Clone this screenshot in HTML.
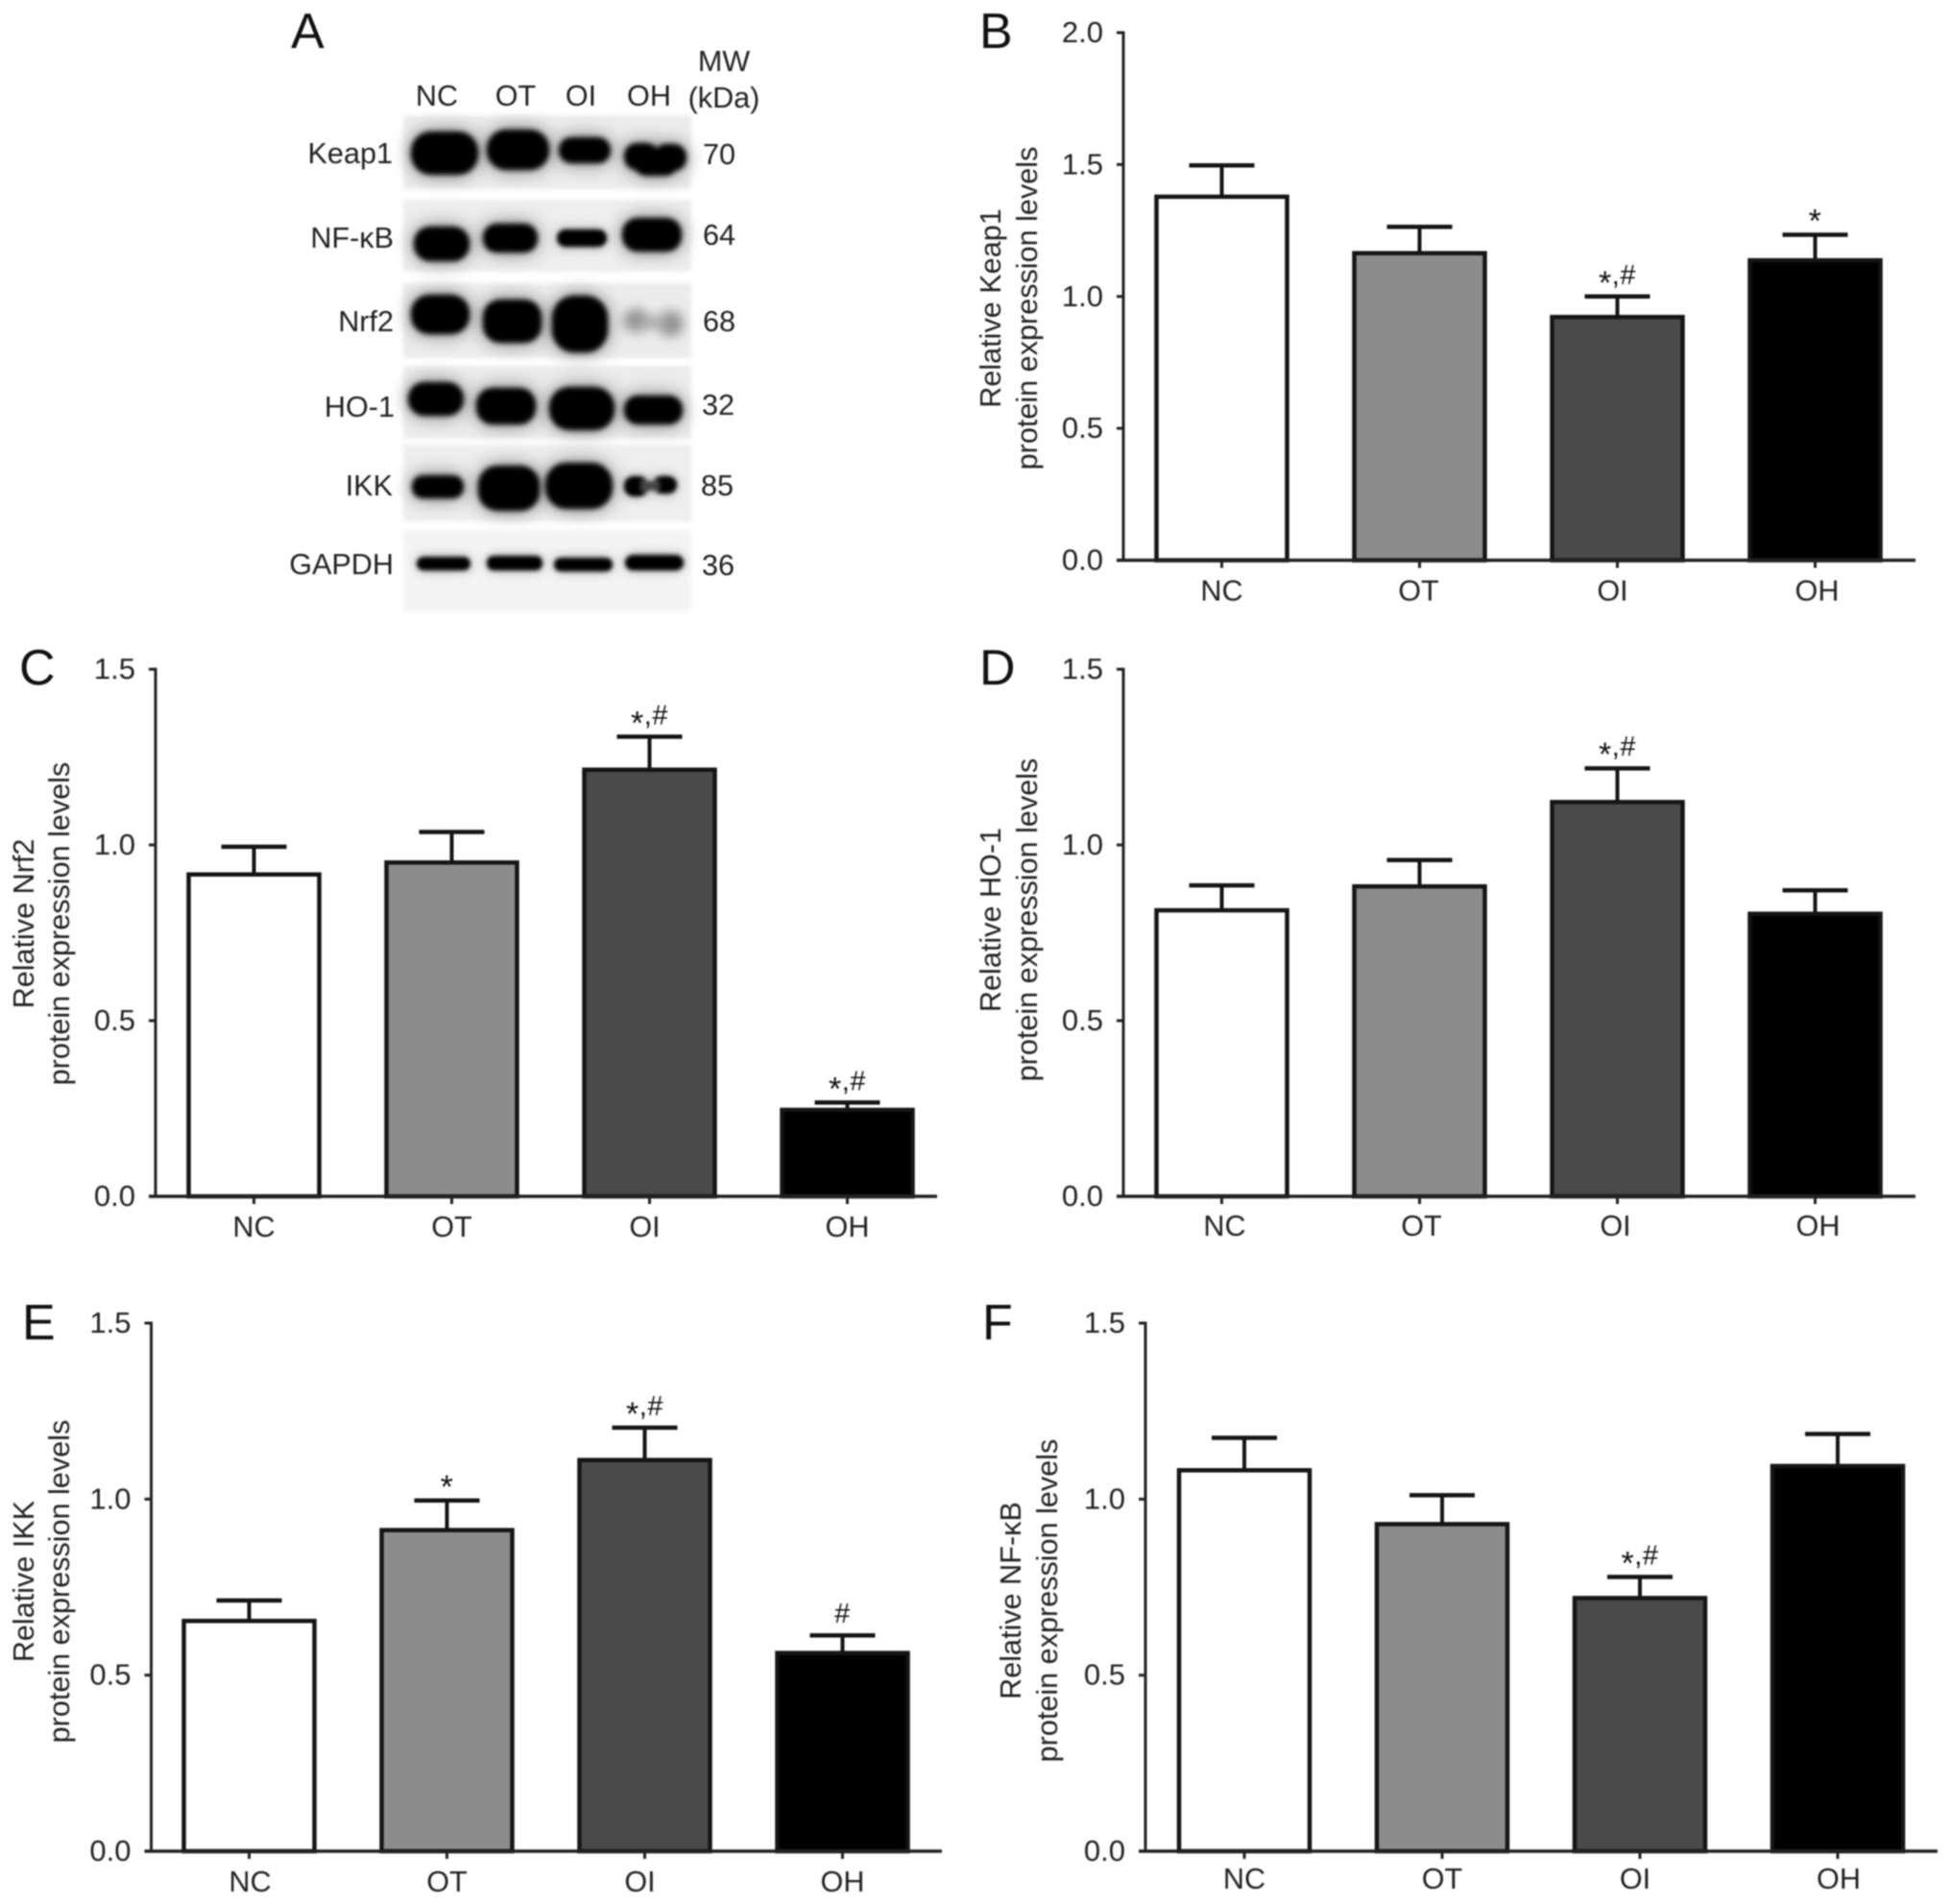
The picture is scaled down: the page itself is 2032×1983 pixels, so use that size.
<!DOCTYPE html>
<html lang="en">
<head>
<meta charset="utf-8">
<title>Western blot and relative protein expression levels</title>
<style>
html,body{margin:0;padding:0;background:#fff;}
#figure{display:block;width:2032px;height:1983px;filter:blur(.7px);font-family:"Liberation Sans",sans-serif;}
#figure text{fill:#222;font-family:"Liberation Sans",sans-serif;font-size:30.6px;}
#figure .letter{font-size:52px;fill:#111;}
</style>
</head>
<body>
<svg id="figure" xmlns="http://www.w3.org/2000/svg" width="2032" height="1983" viewBox="0 0 2032 1983">
  <defs>
    <filter id="band-blur" x="-40%" y="-80%" width="180%" height="260%">
      <feGaussianBlur in="SourceGraphic" stdDeviation="10" result="wide"/>
      <feComponentTransfer in="wide" result="halo"><feFuncA type="linear" slope="0.55"/></feComponentTransfer>
      <feGaussianBlur in="SourceGraphic" stdDeviation="2.6" result="core"/>
      <feMerge><feMergeNode in="halo"/><feMergeNode in="core"/></feMerge>
    </filter>
    <filter id="thin-band-blur" x="-20%" y="-150%" width="140%" height="400%">
      <feGaussianBlur in="SourceGraphic" stdDeviation="6" result="wide"/>
      <feComponentTransfer in="wide" result="halo"><feFuncA type="linear" slope="0.4"/></feComponentTransfer>
      <feGaussianBlur in="SourceGraphic" stdDeviation="2.1" result="core"/>
      <feMerge><feMergeNode in="halo"/><feMergeNode in="core"/></feMerge>
    </filter>
    <filter id="strip-blur" x="-5%" y="-15%" width="110%" height="130%"><feGaussianBlur stdDeviation="2"/></filter>
    <filter id="faint-blur" x="-60%" y="-80%" width="220%" height="260%"><feGaussianBlur stdDeviation="6"/></filter>
  </defs>

  <g id="panel-a">
    <text class="letter" x="303" y="50">A</text>
    <g filter="url(#strip-blur)">
      <rect x="420" y="120" width="300" height="77" fill="#ececec"/>
      <rect x="420" y="208" width="300" height="75" fill="#eeeeee"/>
      <rect x="420" y="295" width="300" height="78" fill="#ececec"/>
      <rect x="420" y="381" width="300" height="76" fill="#ececec"/>
      <rect x="420" y="463" width="300" height="80" fill="#eeeeee"/>
      <rect x="420" y="552" width="300" height="85" fill="#f4f4f4"/>
    </g>
    <g filter="url(#band-blur)" fill="#000">
      <rect x="428" y="137" width="70" height="45" rx="21"/>
      <rect x="507" y="135" width="65" height="42" rx="20"/>
      <rect x="582" y="143" width="54" height="27" rx="13"/>
      <rect x="650" y="149" width="36" height="28" rx="13"/>
      <rect x="660" y="154" width="46" height="29" rx="13"/>
      <rect x="681" y="150" width="34" height="28" rx="13"/>
      <rect x="431" y="236" width="58" height="36" rx="17"/>
      <rect x="503" y="233" width="57" height="30" rx="14"/>
      <rect x="648" y="227" width="62" height="35" rx="16"/>
      <rect x="428" y="307" width="61" height="41" rx="19"/>
      <rect x="503" y="312" width="61" height="45" rx="18"/>
      <rect x="575" y="308" width="58" height="59" rx="23"/>
      <rect x="425" y="398" width="58" height="35" rx="17"/>
      <rect x="496" y="404" width="62" height="38" rx="17"/>
      <rect x="572" y="403" width="68" height="45" rx="21"/>
      <rect x="650" y="412" width="61" height="30" rx="14"/>
      <rect x="429" y="495" width="54" height="24" rx="11"/>
      <rect x="498" y="485" width="64" height="47" rx="20"/>
      <rect x="568" y="482" width="70" height="48" rx="22"/>
    </g>
    <g filter="url(#thin-band-blur)" fill="#000">
      <rect x="580" y="239" width="52" height="18" rx="9"/>
      <rect x="650" y="496" width="25" height="21" rx="10"/>
      <rect x="680" y="496" width="25" height="18" rx="9"/>
      <rect x="668" y="501" width="18" height="10" fill="#444"/>
      <rect x="434" y="580" width="56" height="14" rx="7"/>
      <rect x="507" y="579" width="58" height="15" rx="7"/>
      <rect x="577" y="581" width="61" height="14" rx="7"/>
      <rect x="651" y="578" width="61" height="16" rx="8"/>
    </g>
    <g filter="url(#faint-blur)" fill="#808080">
      <ellipse cx="663" cy="334" rx="13" ry="12"/>
      <ellipse cx="698" cy="337" rx="13" ry="13"/>
      <rect x="660" y="330" width="40" height="12" fill="#a5a5a5"/>
    </g>
    <g text-anchor="middle">
      <text x="455" y="110">NC</text>
      <text x="537" y="110">OT</text>
      <text x="605" y="110">OI</text>
      <text x="676" y="110">OH</text>
      <text x="754" y="74">MW</text>
      <text x="754" y="112">(kDa)</text>
    </g>
    <g text-anchor="end">
      <text x="409" y="170">Keap1</text>
      <text x="410" y="258">NF-κB</text>
      <text x="410" y="345">Nrf2</text>
      <text x="411" y="434">HO-1</text>
      <text x="409" y="516">IKK</text>
      <text x="410" y="598">GAPDH</text>
    </g>
    <g text-anchor="middle">
      <text x="749" y="171">70</text>
      <text x="749" y="255">64</text>
      <text x="749" y="345">68</text>
      <text x="748" y="432">32</text>
      <text x="747" y="516">85</text>
      <text x="748" y="599">36</text>
    </g>
  </g>
</svg>
<script>
const categories = ['NC', 'OT', 'OI', 'OH'];
const barFills = ['#ffffff', '#8c8c8c', '#4a4a4a', '#000000'];
const ticksToTwo = [0, 0.5, 1, 1.5, 2];
const ticksToOneHalf = [0, 0.5, 1, 1.5];

const keap1Means = [1.378, 1.164, 0.922, 1.137];
const keap1Errors = [0.119, 0.100, 0.078, 0.097];
const keap1Marks = ['', '', '*,#', '*'];

const nrf2Means = [0.916, 0.950, 1.214, 0.246];
const nrf2Errors = [0.079, 0.087, 0.094, 0.021];
const nrf2Marks = ['', '', '*,#', '*,#'];

const ho1Means = [0.814, 0.882, 1.122, 0.804];
const ho1Errors = [0.071, 0.075, 0.096, 0.067];
const ho1Marks = ['', '', '*,#', ''];

const ikkMeans = [0.654, 0.912, 1.111, 0.563];
const ikkErrors = [0.058, 0.084, 0.092, 0.050];
const ikkMarks = ['', '*', '*,#', '#'];

const nfkbMeans = [1.082, 0.929, 0.719, 1.094];
const nfkbErrors = [0.092, 0.082, 0.060, 0.091];
const nfkbMarks = ['', '', '*,#', ''];

const panels = [
  { id: 'b', title: 'Keap1', means: keap1Means, errors: keap1Errors, marks: keap1Marks, ticks: ticksToTwo, yMax: 2,
    axisX: 1170, firstX: 1272.5, yTop: 34, yBase: 583.5, axisEnd: 1995, labelDrop: 42,
    titleX1: 1042, titleX2: 1080, titleY: 321, letterX: 1020, letterY: 50, labelShift: [0, -1, -5, 2] },
  { id: 'c', title: 'Nrf2', means: nrf2Means, errors: nrf2Errors, marks: nrf2Marks, ticks: ticksToOneHalf, yMax: 1.5,
    axisX: 162, firstX: 264.5, yTop: 697, yBase: 1246, axisEnd: 976, labelDrop: 42,
    titleX1: 35, titleX2: 72, titleY: 962, letterX: 20, letterY: 713, labelShift: [0, 0, -5, 0] },
  { id: 'd', title: 'HO-1', means: ho1Means, errors: ho1Errors, marks: ho1Marks, ticks: ticksToOneHalf, yMax: 1.5,
    axisX: 1170, firstX: 1272.5, yTop: 697, yBase: 1246, axisEnd: 1995, labelDrop: 41,
    titleX1: 1042, titleX2: 1080, titleY: 958, letterX: 1020, letterY: 713, labelShift: [3, 2, -2, 3] },
  { id: 'e', title: 'IKK', means: ikkMeans, errors: ikkErrors, marks: ikkMarks, ticks: ticksToOneHalf, yMax: 1.5,
    axisX: 157.5, firstX: 259.5, yTop: 1378, yBase: 1928, axisEnd: 981, labelDrop: 42,
    titleX1: 35, titleX2: 72, titleY: 1647, letterX: 23, letterY: 1395, labelShift: [1, 0, -5, 0] },
  { id: 'f', title: 'NF-κB', means: nfkbMeans, errors: nfkbErrors, marks: nfkbMarks, ticks: ticksToOneHalf, yMax: 1.5,
    axisX: 1193, firstX: 1296, yTop: 1378, yBase: 1928, axisEnd: 2018, labelDrop: 39,
    titleX1: 1063, titleX2: 1101, titleY: 1667, letterX: 1023, letterY: 1395, labelShift: [0, 0, -5, 1] }
];

const SVG_NS = 'http://www.w3.org/2000/svg';
const BAR_SPACING = 206;
const BAR_WIDTH = 136;
const CAP_HALF = 34;
const root = document.getElementById('figure');

function shape(parent, tag, attrs) {
  const node = document.createElementNS(SVG_NS, tag);
  Object.keys(attrs).forEach(function (k) { node.setAttribute(k, attrs[k]); });
  parent.appendChild(node);
  return node;
}
function yScale(p, v) {
  return p.yBase - (v / p.yMax) * (p.yBase - p.yTop);
}
function xScale(p, i) {
  return p.firstX + i * BAR_SPACING;
}

function drawPanel(p) {
  const g = shape(root, 'g', {});
  
  

  const letter = shape(g, 'text', { 'class': 'letter', x: p.letterX, y: p.letterY });
  letter.textContent = p.id.toUpperCase();
  
  

  const title = shape(g, 'g', {});
  
  
  const line1 = shape(title, 'text', { 'text-anchor': 'middle', transform: 'translate(' + p.titleX1 + ' ' + p.titleY + ') rotate(-90)' });
  line1.textContent = 'Relative ' + p.title;
  
  
  const line2 = shape(title, 'text', { 'text-anchor': 'middle', transform: 'translate(' + p.titleX2 + ' ' + p.titleY + ') rotate(-90)' });
  line2.textContent = 'protein expression levels';
  
  

  categories.forEach(function (cat, i) {
    const cx = xScale(p, i);
    const topY = yScale(p, p.means[i]);
    const errY = yScale(p, p.means[i] + p.errors[i]);

    const stem = shape(g, 'line', { x1: cx, x2: cx, y1: topY, y2: errY, stroke: '#151515', 'stroke-width': 4 });
    
    

    const cap = shape(g, 'line', { x1: cx - CAP_HALF, x2: cx + CAP_HALF, y1: errY, y2: errY, stroke: '#151515', 'stroke-width': 4.5 });
    
    

    const bar = shape(g, 'rect', { x: cx - BAR_WIDTH / 2, y: topY, width: BAR_WIDTH, height: p.yBase - topY, fill: barFills[i], stroke: '#151515', 'stroke-width': 4.5 });
    
    

    const tick = shape(g, 'line', { x1: cx, x2: cx, y1: p.yBase, y2: p.yBase + 8, stroke: '#222', 'stroke-width': 3 });
    
    

    const label = shape(g, 'text', { x: cx + p.labelShift[i], y: p.yBase + p.labelDrop, 'text-anchor': 'middle' });
    label.textContent = cat;
    
    

    if (p.marks[i]) {
      const mark = shape(g, 'text', { x: cx, y: errY - 13, 'text-anchor': 'middle', 'letter-spacing': '0.5' });
      
      
      let shifted = false;
      p.marks[i].split('').forEach(function (ch) {
        const attrs = {};
        if (ch === '*') { attrs.dy = 10; attrs.style = 'font-size:34px;fill:#111'; shifted = true; }
        else { attrs.style = 'font-size:29px;fill:#111'; if (shifted) { attrs.dy = -10; shifted = false; } }
        const span = shape(mark, 'tspan', attrs);
        span.textContent = ch;
      });
    }
  });

  const yAxis = shape(g, 'line', { x1: p.axisX, x2: p.axisX, y1: p.yTop - 1.5, y2: p.yBase, stroke: '#222', 'stroke-width': 3 });
  
  

  const xAxis = shape(g, 'line', { x1: p.axisX - 7, x2: p.axisEnd, y1: p.yBase, y2: p.yBase, stroke: '#222', 'stroke-width': 3.5 });
  
  

  p.ticks.forEach(function (t) {
    const y = yScale(p, t);
    const tick = shape(g, 'line', { x1: p.axisX - 7, x2: p.axisX, y1: y, y2: y, stroke: '#222', 'stroke-width': 3 });
    
    

    const label = shape(g, 'text', { x: p.axisX - 21, y: y + 10, 'text-anchor': 'end', style: 'font-size:31px' });
    label.textContent = t.toFixed(1);
    
    
  });
}

panels.forEach(drawPanel);
</script>
</body>
</html>
